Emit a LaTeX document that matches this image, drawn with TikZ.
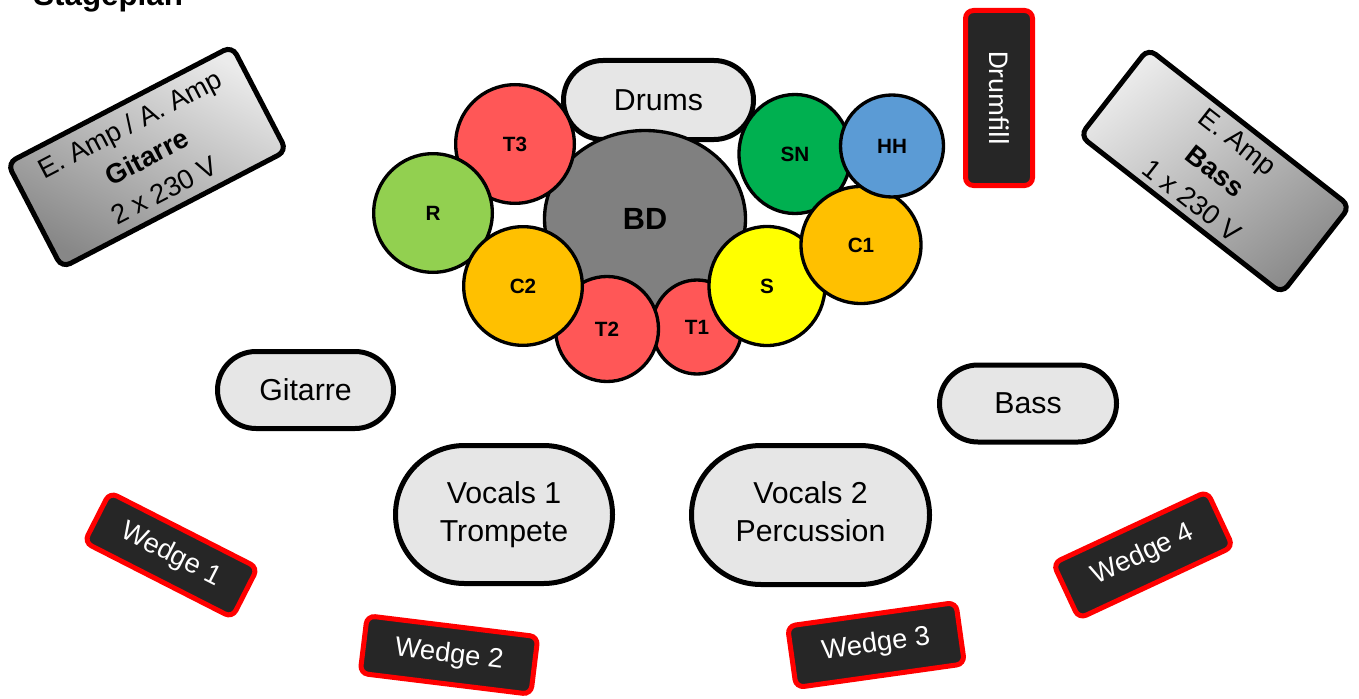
\documentclass[tikz,border=0pt]{standalone}
\usepackage{fontspec}
\setmainfont{Liberation Sans}
\newfontfamily\calibfont{Carlito}
\usetikzlibrary{shapes.geometric,shapes.misc}
\definecolor{boxgray}{HTML}{E6E6E6}
\definecolor{wedgefill}{HTML}{262626}
\definecolor{wedgered}{HTML}{FF0000}
\definecolor{tomred}{HTML}{FF5757}
\definecolor{ridegreen}{HTML}{92D050}
\definecolor{crashorange}{HTML}{FFC000}
\definecolor{splashyellow}{HTML}{FFFF00}
\definecolor{snaregreen}{HTML}{00B050}
\definecolor{hhblue}{HTML}{5B9BD5}
\definecolor{bdgray}{HTML}{808080}
\begin{document}
\begin{tikzpicture}[x=0.75pt,y=-0.75pt,
  stagebox/.style={rounded rectangle, draw=black, line width=3.75pt, fill=boxgray,
    inner sep=0pt, align=center, font=\fontsize{22.7}{28.5}\selectfont},
  drum/.style={ellipse, draw=black, line width=2.5pt, inner sep=0pt,
    font=\bfseries\fontsize{15.5}{17}\selectfont},
  wedgebox/.style={rectangle, rounded corners=6pt, draw=wedgered, line width=3.75pt,
    fill=wedgefill, text=white, inner sep=0pt, font=\fontsize{20.5}{23}\selectfont},
  ampbox/.style={rectangle, rounded corners=7pt, draw=black, line width=3.75pt,
    inner sep=0pt, align=center, font=\fontsize{20.5}{28}\selectfont},
]
\useasboundingbox (0,0) rectangle (1359,699);
\clip (0,0) rectangle (1359,699);

% title
\node[anchor=base west, inner sep=0pt, font=\bfseries\fontsize{23.5}{26}\selectfont] (title) at (33,6) {Stageplan};

% amps
\node[ampbox, minimum width=190pt, minimum height=88.5pt, rotate=27.5,
  top color=white!92!black, bottom color=black!47, shading angle=-27.5] (gamp) at (147,157)
  {E. Amp / A. Amp\\\textbf{Gitarre}\\2 x 230 V};
\node[ampbox, minimum width=192pt, minimum height=83pt, rotate=-38,
  top color=white!92!black, bottom color=black!45, shading angle=38] (bamp) at (1215,171)
  {E. Amp\\\textbf{Bass}\\1 x 230 V};

% drumfill
\node[wedgebox, rotate=-90, minimum width=131.25pt, minimum height=50.25pt,
  font=\calibfont\fontsize{21.5}{23}\selectfont] (fill) at (999,98) {Drumfill};

% drum kit
\node[stagebox, minimum width=142.5pt, minimum height=59.25pt] (drums) at (658.5,100) {Drums};
\node[drum, fill=bdgray, minimum width=150.75pt, minimum height=132.75pt,
  font=\bfseries\fontsize{23}{25}\selectfont] (bd) at (645,219) {BD};
\node[drum, fill=tomred, minimum width=89pt, minimum height=89pt] (t3) at (515,144) {T3};
\node[drum, fill=ridegreen, minimum width=89pt, minimum height=89pt] (r) at (433,213) {R};
\node[drum, fill=tomred, minimum width=67.5pt, minimum height=70.5pt] (t1) at (697,327) {T1};
\node[drum, fill=tomred, minimum width=77.25pt, minimum height=78.75pt] (t2) at (607,329) {T2};
\node[drum, fill=crashorange, minimum width=89pt, minimum height=89pt] (c2) at (523,286) {C2};
\node[drum, fill=splashyellow, minimum width=87pt, minimum height=89.25pt] (s) at (767,286) {S};
\node[drum, fill=snaregreen, minimum width=84pt, minimum height=89.25pt] (sn) at (795,154) {SN};
\node[drum, fill=crashorange, minimum width=90pt, minimum height=87.75pt] (c1) at (861,245) {C1};
\node[drum, fill=hhblue, minimum width=77.25pt, minimum height=76.5pt] (hh) at (892,146) {HH};

% musicians
\node[stagebox, minimum width=132pt, minimum height=57.75pt] (git) at (305.5,390) {Gitarre};
\node[stagebox, minimum width=132.75pt, minimum height=57.75pt] (bass) at (1028,403.5) {Bass};
\node[stagebox, minimum width=162.75pt, minimum height=103.5pt] (voc1) at (504,514.5) {Vocals 1\\Trompete};
\node[stagebox, minimum width=178.5pt, minimum height=104.25pt] (voc2) at (810.5,515) {Vocals 2\\Percussion\vphantom{p}};

% wedges
\node[wedgebox, rotate=-27, minimum width=124.5pt, minimum height=42pt] (w1) at (171,555) {Wedge 1};
\node[wedgebox, rotate=-7, minimum width=129pt, minimum height=43.5pt] (w2) at (449,655) {Wedge 2};
\node[wedgebox, rotate=8, minimum width=127.5pt, minimum height=46.5pt] (w3) at (876,645) {Wedge 3};
\node[wedgebox, rotate=25, minimum width=127.5pt, minimum height=45.75pt] (w4) at (1143,555) {Wedge 4};
\end{tikzpicture}
\end{document}
